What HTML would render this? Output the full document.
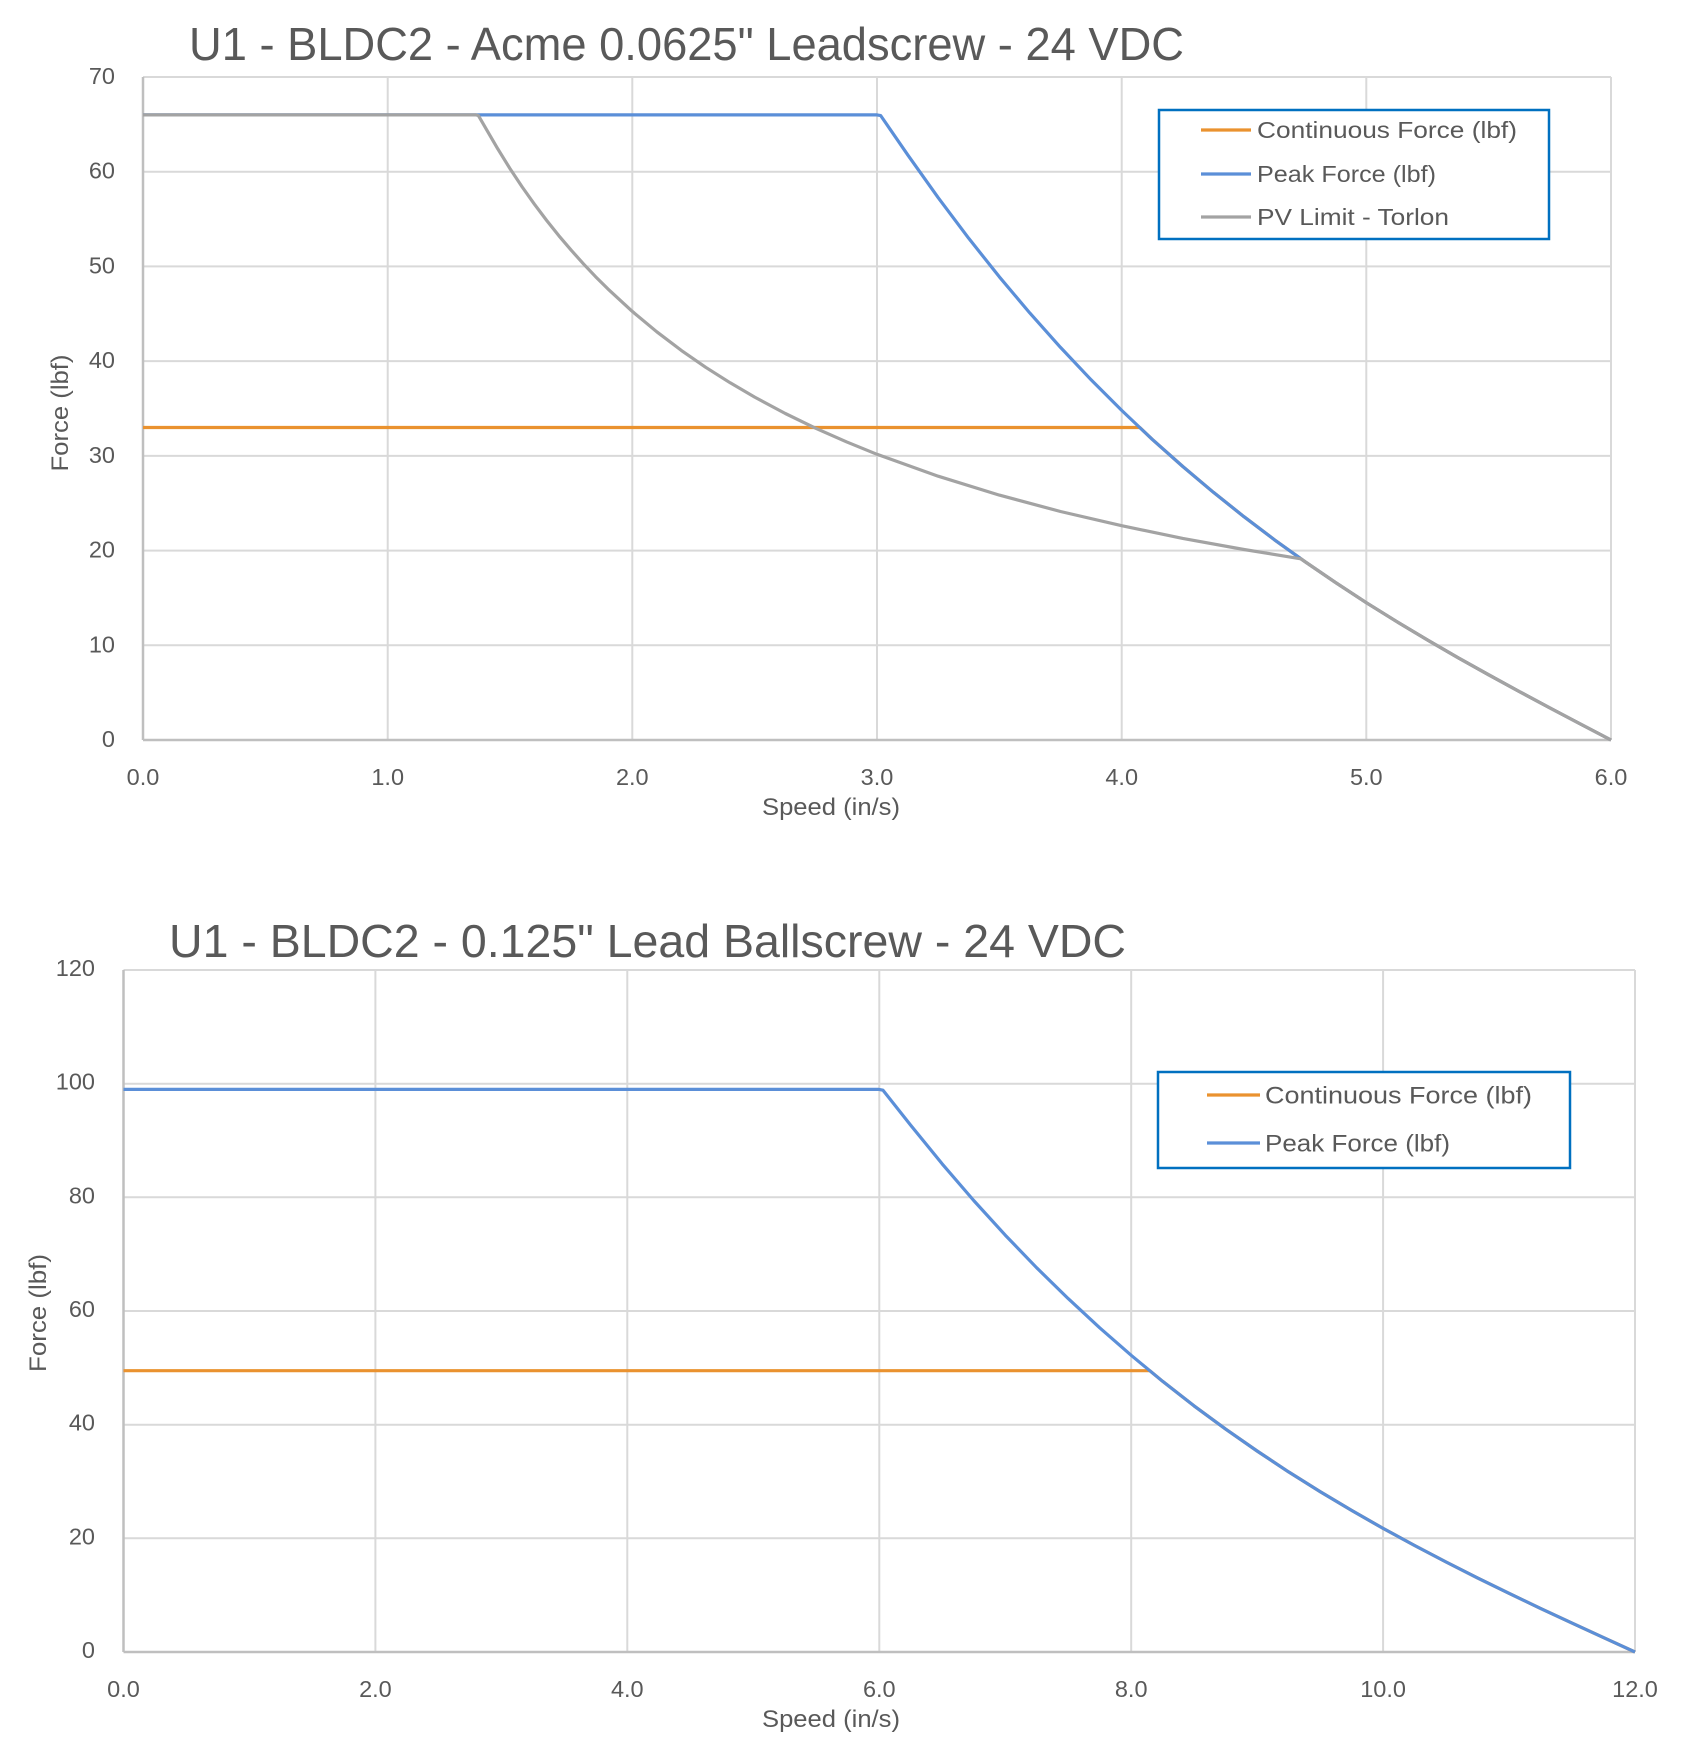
<!DOCTYPE html>
<html>
<head>
<meta charset="utf-8">
<style>
  html, body { margin: 0; padding: 0; background: #ffffff; }
  svg { display: block; }
  text { font-family: "Liberation Sans", "DejaVu Sans", sans-serif; fill: #595959; }
</style>
</head>
<body>
<svg width="1684" height="1764" viewBox="0 0 1684 1764" xmlns="http://www.w3.org/2000/svg">
  <rect x="0" y="0" width="1684" height="1764" fill="#ffffff"/>

  <!-- ================= CHART 1 ================= -->
  <text x="189" y="60" font-size="46" textLength="995" lengthAdjust="spacingAndGlyphs">U1 - BLDC2 - Acme 0.0625" Leadscrew - 24 VDC</text>

  <g stroke="#d9d9d9" stroke-width="2" fill="none">
    <line x1="143" y1="645.3" x2="1611" y2="645.3"/>
    <line x1="143" y1="550.6" x2="1611" y2="550.6"/>
    <line x1="143" y1="455.9" x2="1611" y2="455.9"/>
    <line x1="143" y1="361.1" x2="1611" y2="361.1"/>
    <line x1="143" y1="266.4" x2="1611" y2="266.4"/>
    <line x1="143" y1="171.7" x2="1611" y2="171.7"/>
    <line x1="143" y1="77" x2="1611" y2="77"/>
    <line x1="387.7" y1="77" x2="387.7" y2="740"/>
    <line x1="632.3" y1="77" x2="632.3" y2="740"/>
    <line x1="877" y1="77" x2="877" y2="740"/>
    <line x1="1121.7" y1="77" x2="1121.7" y2="740"/>
    <line x1="1366.3" y1="77" x2="1366.3" y2="740"/>
    <line x1="1611" y1="77" x2="1611" y2="740"/>
  </g>
  <g stroke="#bfbfbf" stroke-width="2.5" fill="none">
    <line x1="143" y1="77" x2="143" y2="740"/>
    <line x1="143" y1="740" x2="1611" y2="740"/>
  </g>

  <g font-size="23.5" text-anchor="end">
    <text x="115" y="747">0</text>
    <text x="115" y="652.3">10</text>
    <text x="115" y="557.6">20</text>
    <text x="115" y="462.9">30</text>
    <text x="115" y="368.1">40</text>
    <text x="115" y="273.4">50</text>
    <text x="115" y="178.7">60</text>
    <text x="115" y="84">70</text>
  </g>
  <g font-size="23.5" text-anchor="middle">
    <text x="143" y="785">0.0</text>
    <text x="387.7" y="785">1.0</text>
    <text x="632.3" y="785">2.0</text>
    <text x="877" y="785">3.0</text>
    <text x="1121.7" y="785">4.0</text>
    <text x="1366.3" y="785">5.0</text>
    <text x="1611" y="785">6.0</text>
  </g>
  <text x="762" y="815" font-size="24" textLength="138" lengthAdjust="spacingAndGlyphs">Speed (in/s)</text>
  <text transform="translate(68,413) rotate(-90)" x="-58.5" y="0" font-size="24" textLength="117" lengthAdjust="spacingAndGlyphs">Force (lbf)</text>

  <g fill="none" stroke-width="3.2" stroke-linejoin="round" stroke-linecap="butt">
    <!-- Continuous -->
    <polyline stroke="#EA922F" points="143,427.5 1139.8,427.5 1152.2,439.3 1182.8,466.5 1213.4,492.3 1244,516.7 1274.6,539.9 1305.2,561.8 1335.8,582.7 1366.3,602.7 1396.9,621.7 1427.5,640 1458.1,657.7 1488.7,674.8 1519.2,691.5 1549.8,707.9 1580.4,724 1611,740"/>
    <!-- Peak -->
    <polyline stroke="#5B8FD8" points="143,114.9 877,114.9 880.7,115.6 907.6,154.7 938.2,197.7 968.8,238.4 999.3,276.8 1029.9,313.1 1060.5,347.4 1091.1,379.8 1121.7,410.4 1152.2,439.3 1182.8,466.5 1213.4,492.3 1244,516.7 1274.6,539.9 1305.2,561.8 1335.8,582.7 1366.3,602.7 1396.9,621.7 1427.5,640 1458.1,657.7 1488.7,674.8 1519.2,691.5 1549.8,707.9 1580.4,724 1611,740"/>
    <!-- PV Limit -->
    <polyline stroke="#A3A3A3" points="143,114.9 476,114.9 478.4,115.6 485.5,127.8 497.8,148.9 510,168.6 522.2,187 534.5,204.3 546.7,220.5 558.9,235.8 571.2,250.2 583.4,263.8 595.6,276.7 607.9,288.9 632.3,311.4 656.8,331.8 681.3,350.4 705.7,367.3 730.2,382.8 754.7,397.1 785.3,413.5 815.8,428.3 846.4,441.8 877,454.3 938.2,476.2 999.3,495.1 1060.5,511.5 1121.7,525.7 1182.8,538.4 1244,549.5 1300.8,558.8 1305.2,561.8 1335.8,582.7 1366.3,602.7 1396.9,621.7 1427.5,640 1458.1,657.7 1488.7,674.8 1519.2,691.5 1549.8,707.9 1580.4,724 1611,740"/>
  </g>

  <rect x="1159" y="110" width="390" height="129" fill="#ffffff" stroke="#0070C0" stroke-width="2.5"/>
  <g stroke-width="3.2">
    <line x1="1201" y1="130" x2="1251" y2="130" stroke="#EA922F"/>
    <line x1="1201" y1="174" x2="1251" y2="174" stroke="#5B8FD8"/>
    <line x1="1201" y1="217" x2="1251" y2="217" stroke="#A3A3A3"/>
  </g>
  <g font-size="23.5">
    <text x="1257" y="138" textLength="260" lengthAdjust="spacingAndGlyphs">Continuous Force (lbf)</text>
    <text x="1257" y="182" textLength="179" lengthAdjust="spacingAndGlyphs">Peak Force (lbf)</text>
    <text x="1257" y="225" textLength="192" lengthAdjust="spacingAndGlyphs">PV Limit - Torlon</text>
  </g>

  <!-- ================= CHART 2 ================= -->
  <text x="169" y="957" font-size="46" textLength="957" lengthAdjust="spacingAndGlyphs">U1 - BLDC2 - 0.125" Lead Ballscrew - 24 VDC</text>

  <g stroke="#d9d9d9" stroke-width="2" fill="none">
    <line x1="123.5" y1="1538.3" x2="1635" y2="1538.3"/>
    <line x1="123.5" y1="1424.7" x2="1635" y2="1424.7"/>
    <line x1="123.5" y1="1311" x2="1635" y2="1311"/>
    <line x1="123.5" y1="1197.3" x2="1635" y2="1197.3"/>
    <line x1="123.5" y1="1083.7" x2="1635" y2="1083.7"/>
    <line x1="123.5" y1="970" x2="1635" y2="970"/>
    <line x1="375.4" y1="970" x2="375.4" y2="1652"/>
    <line x1="627.3" y1="970" x2="627.3" y2="1652"/>
    <line x1="879.3" y1="970" x2="879.3" y2="1652"/>
    <line x1="1131.2" y1="970" x2="1131.2" y2="1652"/>
    <line x1="1383.1" y1="970" x2="1383.1" y2="1652"/>
    <line x1="1635" y1="970" x2="1635" y2="1652"/>
  </g>
  <g stroke="#bfbfbf" stroke-width="2.5" fill="none">
    <line x1="123.5" y1="970" x2="123.5" y2="1652"/>
    <line x1="123.5" y1="1652" x2="1635" y2="1652"/>
  </g>

  <g font-size="23.5" text-anchor="end">
    <text x="95" y="1658">0</text>
    <text x="95" y="1544.3">20</text>
    <text x="95" y="1430.7">40</text>
    <text x="95" y="1317">60</text>
    <text x="95" y="1203.3">80</text>
    <text x="95" y="1089.7">100</text>
    <text x="95" y="976">120</text>
  </g>
  <g font-size="23.5" text-anchor="middle">
    <text x="123.5" y="1697">0.0</text>
    <text x="375.4" y="1697">2.0</text>
    <text x="627.3" y="1697">4.0</text>
    <text x="879.3" y="1697">6.0</text>
    <text x="1131.2" y="1697">8.0</text>
    <text x="1383.1" y="1697">10.0</text>
    <text x="1635" y="1697">12.0</text>
  </g>
  <text x="762" y="1727" font-size="24" textLength="138" lengthAdjust="spacingAndGlyphs">Speed (in/s)</text>
  <text transform="translate(46,1313) rotate(-90)" x="-59" y="0" font-size="24" textLength="118" lengthAdjust="spacingAndGlyphs">Force (lbf)</text>

  <g fill="none" stroke-width="3.2" stroke-linejoin="round" stroke-linecap="butt">
    <polyline stroke="#EA922F" points="123.5,1370.7 1149.8,1370.7 1162.6,1381.3 1194.1,1405.9 1225.6,1429.1 1257.1,1451 1288.6,1471.9 1320.1,1491.6 1351.6,1510.4 1383.1,1528.4 1414.6,1545.5 1446.1,1562 1477.5,1577.9 1509,1593.3 1540.5,1608.4 1572,1623.1 1603.5,1637.6 1635,1652"/>
    <polyline stroke="#5B8FD8" points="123.5,1089.4 879,1089.4 883,1090.2 910.7,1125.2 942.2,1163.9 973.7,1200.5 1005.2,1235.1 1036.7,1267.8 1068.2,1298.6 1099.7,1327.8 1131.2,1355.3 1162.6,1381.3 1194.1,1405.9 1225.6,1429.1 1257.1,1451 1288.6,1471.9 1320.1,1491.6 1351.6,1510.4 1383.1,1528.4 1414.6,1545.5 1446.1,1562 1477.5,1577.9 1509,1593.3 1540.5,1608.4 1572,1623.1 1603.5,1637.6 1635,1652"/>
  </g>

  <rect x="1158" y="1072" width="412" height="96" fill="#ffffff" stroke="#0070C0" stroke-width="2.5"/>
  <g stroke-width="3.2">
    <line x1="1207" y1="1095" x2="1260" y2="1095" stroke="#EA922F"/>
    <line x1="1207" y1="1143" x2="1260" y2="1143" stroke="#5B8FD8"/>
  </g>
  <g font-size="24.5">
    <text x="1265" y="1103.5" textLength="267" lengthAdjust="spacingAndGlyphs">Continuous Force (lbf)</text>
    <text x="1265" y="1151.5" textLength="185" lengthAdjust="spacingAndGlyphs">Peak Force (lbf)</text>
  </g>
</svg>
</body>
</html>
